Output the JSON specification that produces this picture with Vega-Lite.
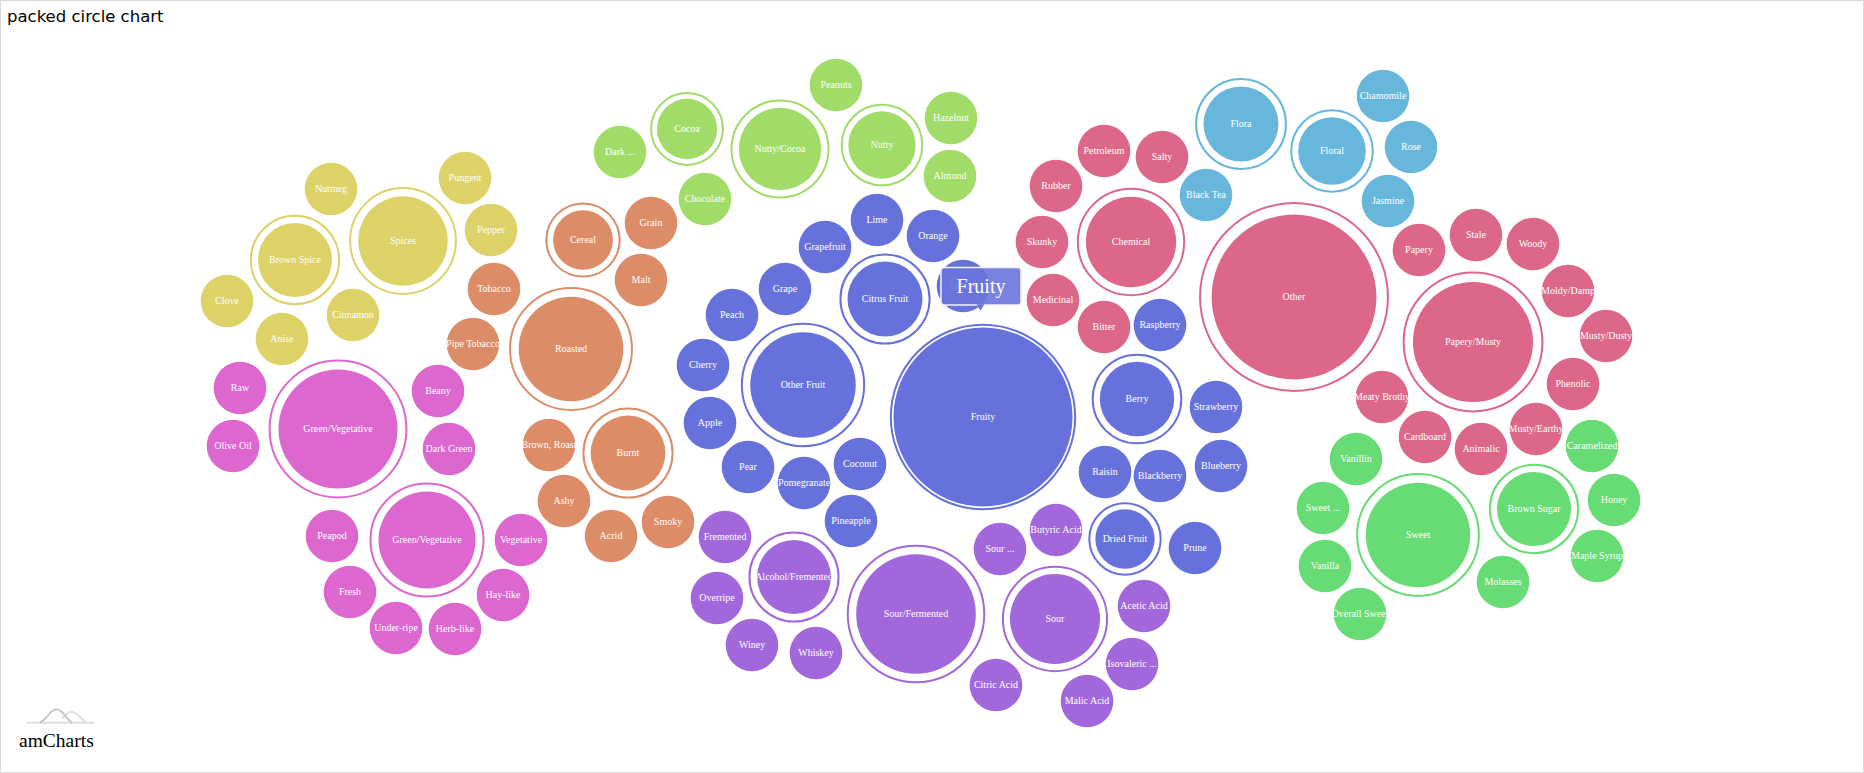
{
  "$schema": "https://vega.github.io/schema/vega-lite/v6.json",
  "width": 1864,
  "height": 773,
  "padding": 0,
  "autosize": {"type": "none"},
  "background": "white",
  "config": {"view": {"stroke": "#d9d9d9", "strokeWidth": 2}},
  "title": {"text": "packed circle chart", "anchor": "start", "frame": "group", "orient": "top", "offset": 0, "dx": 7, "dy": 38.5, "baseline": "alphabetic", "font": "DejaVu Sans", "fontSize": 16.5, "fontWeight": "normal", "color": "#000000"},
  "datasets": {
    "nodes": [
      {"name": "Spices", "group": "Spices", "x": 403, "y": 241, "r": 50.5, "outer": 59.7},
      {"name": "Brown Spice", "group": "Spices", "x": 295, "y": 260, "r": 41.7, "outer": 49.8},
      {"name": "Nutmeg", "group": "Spices", "x": 331, "y": 189, "r": 29.7},
      {"name": "Pungent", "group": "Spices", "x": 465, "y": 178, "r": 29.7},
      {"name": "Pepper", "group": "Spices", "x": 491, "y": 230, "r": 29.7},
      {"name": "Clove", "group": "Spices", "x": 227, "y": 301, "r": 29.7},
      {"name": "Cinnamon", "group": "Spices", "x": 353, "y": 315, "r": 29.7},
      {"name": "Anise", "group": "Spices", "x": 282, "y": 339, "r": 29.7},
      {"name": "Roasted", "group": "Roasted", "x": 571, "y": 349, "r": 59, "outer": 68.8},
      {"name": "Cereal", "group": "Roasted", "x": 583, "y": 240, "r": 33.7, "outer": 41.3},
      {"name": "Burnt", "group": "Roasted", "x": 628, "y": 453, "r": 42.2, "outer": 50.3},
      {"name": "Tobacco", "group": "Roasted", "x": 494, "y": 289, "r": 29.7},
      {"name": "Pipe Tobacco", "group": "Roasted", "x": 473, "y": 344, "r": 29.7},
      {"name": "Grain", "group": "Roasted", "x": 651, "y": 223, "r": 29.7},
      {"name": "Malt", "group": "Roasted", "x": 641, "y": 280, "r": 29.7},
      {"name": "Brown, Roast", "group": "Roasted", "x": 549, "y": 445, "r": 29.7},
      {"name": "Ashy", "group": "Roasted", "x": 564, "y": 501, "r": 29.7},
      {"name": "Acrid", "group": "Roasted", "x": 611, "y": 536, "r": 29.7},
      {"name": "Smoky", "group": "Roasted", "x": 668, "y": 522, "r": 29.7},
      {"name": "Nutty/Cocoa", "group": "Nutty/Cocoa", "x": 780, "y": 149, "r": 46.5, "outer": 54.7},
      {"name": "Cocoa", "group": "Nutty/Cocoa", "x": 687, "y": 129, "r": 34, "outer": 40.5},
      {"name": "Nutty", "group": "Nutty/Cocoa", "x": 882, "y": 145, "r": 38, "outer": 45.5},
      {"name": "Dark ...", "group": "Nutty/Cocoa", "x": 620, "y": 152, "r": 29.7},
      {"name": "Chocolate", "group": "Nutty/Cocoa", "x": 705, "y": 199, "r": 29.7},
      {"name": "Peanuts", "group": "Nutty/Cocoa", "x": 836, "y": 85, "r": 29.7},
      {"name": "Hazelnut", "group": "Nutty/Cocoa", "x": 951, "y": 118, "r": 29.7},
      {"name": "Almond", "group": "Nutty/Cocoa", "x": 950, "y": 176, "r": 29.7},
      {"name": "Fruity", "group": "Fruity", "x": 983, "y": 417, "r": 101, "outer": 104},
      {"name": "Citrus Fruit", "group": "Fruity", "x": 885, "y": 299, "r": 42.3, "outer": 50.3},
      {"name": "Other Fruit", "group": "Fruity", "x": 803, "y": 385, "r": 59.5, "outer": 69},
      {"name": "Berry", "group": "Fruity", "x": 1137, "y": 399, "r": 42, "outer": 50},
      {"name": "Dried Fruit", "group": "Fruity", "x": 1125, "y": 539, "r": 33.5, "outer": 40.3},
      {"name": "Lime", "group": "Fruity", "x": 877, "y": 220, "r": 29.7},
      {"name": "Orange", "group": "Fruity", "x": 933, "y": 236, "r": 29.7},
      {"name": "Grapefruit", "group": "Fruity", "x": 825, "y": 247, "r": 29.7},
      {"name": "Lemon", "group": "Fruity", "x": 963, "y": 286, "r": 29.7},
      {"name": "Grape", "group": "Fruity", "x": 785, "y": 289, "r": 29.7},
      {"name": "Peach", "group": "Fruity", "x": 732, "y": 315, "r": 29.7},
      {"name": "Cherry", "group": "Fruity", "x": 703, "y": 365, "r": 29.7},
      {"name": "Apple", "group": "Fruity", "x": 710, "y": 423, "r": 29.7},
      {"name": "Pear", "group": "Fruity", "x": 748, "y": 467, "r": 29.7},
      {"name": "Pomegranate", "group": "Fruity", "x": 804, "y": 483, "r": 29.7},
      {"name": "Coconut", "group": "Fruity", "x": 860, "y": 464, "r": 29.7},
      {"name": "Pineapple", "group": "Fruity", "x": 851, "y": 521, "r": 29.7},
      {"name": "Raspberry", "group": "Fruity", "x": 1160, "y": 325, "r": 29.7},
      {"name": "Strawberry", "group": "Fruity", "x": 1216, "y": 407, "r": 29.7},
      {"name": "Blueberry", "group": "Fruity", "x": 1221, "y": 466, "r": 29.7},
      {"name": "Blackberry", "group": "Fruity", "x": 1160, "y": 476, "r": 29.7},
      {"name": "Raisin", "group": "Fruity", "x": 1105, "y": 472, "r": 29.7},
      {"name": "Prune", "group": "Fruity", "x": 1195, "y": 548, "r": 29.7},
      {"name": "Other", "group": "Other", "x": 1294, "y": 297, "r": 93, "outer": 106},
      {"name": "Chemical", "group": "Other", "x": 1131, "y": 242, "r": 51, "outer": 60},
      {"name": "Papery/Musty", "group": "Other", "x": 1473, "y": 342, "r": 67.8, "outer": 78.3},
      {"name": "Rubber", "group": "Other", "x": 1056, "y": 186, "r": 29.7},
      {"name": "Petroleum", "group": "Other", "x": 1104, "y": 151, "r": 29.7},
      {"name": "Salty", "group": "Other", "x": 1162, "y": 157, "r": 29.7},
      {"name": "Skunky", "group": "Other", "x": 1042, "y": 242, "r": 29.7},
      {"name": "Medicinal", "group": "Other", "x": 1053, "y": 300, "r": 29.7},
      {"name": "Bitter", "group": "Other", "x": 1104, "y": 327, "r": 29.7},
      {"name": "Papery", "group": "Other", "x": 1419, "y": 250, "r": 29.7},
      {"name": "Stale", "group": "Other", "x": 1476, "y": 235, "r": 29.7},
      {"name": "Woody", "group": "Other", "x": 1533, "y": 244, "r": 29.7},
      {"name": "Moldy/Damp", "group": "Other", "x": 1568, "y": 291, "r": 29.7},
      {"name": "Musty/Dusty", "group": "Other", "x": 1606, "y": 336, "r": 29.7},
      {"name": "Phenolic", "group": "Other", "x": 1573, "y": 384, "r": 29.7},
      {"name": "Meaty Brothy", "group": "Other", "x": 1382, "y": 397, "r": 29.7},
      {"name": "Cardboard", "group": "Other", "x": 1425, "y": 437, "r": 29.7},
      {"name": "Animalic", "group": "Other", "x": 1481, "y": 449, "r": 29.7},
      {"name": "Musty/Earthy", "group": "Other", "x": 1536, "y": 429, "r": 29.7},
      {"name": "Flora", "group": "Floral", "x": 1241, "y": 124, "r": 42.3, "outer": 50.7},
      {"name": "Floral", "group": "Floral", "x": 1332, "y": 151, "r": 38.2, "outer": 46},
      {"name": "Chamomile", "group": "Floral", "x": 1383, "y": 96, "r": 29.7},
      {"name": "Rose", "group": "Floral", "x": 1411, "y": 147, "r": 29.7},
      {"name": "Jasmine", "group": "Floral", "x": 1388, "y": 201, "r": 29.7},
      {"name": "Black Tea", "group": "Floral", "x": 1206, "y": 195, "r": 29.7},
      {"name": "Sweet", "group": "Sweet", "x": 1418, "y": 535, "r": 59, "outer": 68.7},
      {"name": "Brown Sugar", "group": "Sweet", "x": 1534, "y": 509, "r": 41.8, "outer": 49.8},
      {"name": "Vanillin", "group": "Sweet", "x": 1356, "y": 459, "r": 29.7},
      {"name": "Sweet ...", "group": "Sweet", "x": 1323, "y": 508, "r": 29.7},
      {"name": "Vanilla", "group": "Sweet", "x": 1325, "y": 566, "r": 29.7},
      {"name": "Overall Sweet", "group": "Sweet", "x": 1360, "y": 614, "r": 29.7},
      {"name": "Molasses", "group": "Sweet", "x": 1503, "y": 582, "r": 29.7},
      {"name": "Honey", "group": "Sweet", "x": 1614, "y": 500, "r": 29.7},
      {"name": "Maple Syrup", "group": "Sweet", "x": 1597, "y": 556, "r": 29.7},
      {"name": "Caramelized", "group": "Sweet", "x": 1592, "y": 446, "r": 29.7},
      {"name": "Sour/Fermented", "group": "Sour/Fermented", "x": 916, "y": 614, "r": 67.5, "outer": 77},
      {"name": "Alcohol/Fremented", "group": "Sour/Fermented", "x": 794, "y": 577, "r": 41.7, "outer": 50.3},
      {"name": "Sour", "group": "Sour/Fermented", "x": 1055, "y": 619, "r": 50.8, "outer": 58.8},
      {"name": "Fremented", "group": "Sour/Fermented", "x": 725, "y": 537, "r": 29.7},
      {"name": "Overripe", "group": "Sour/Fermented", "x": 717, "y": 598, "r": 29.7},
      {"name": "Winey", "group": "Sour/Fermented", "x": 752, "y": 645, "r": 29.7},
      {"name": "Whiskey", "group": "Sour/Fermented", "x": 816, "y": 653, "r": 29.7},
      {"name": "Sour ...", "group": "Sour/Fermented", "x": 1000, "y": 549, "r": 29.7},
      {"name": "Butyric Acid", "group": "Sour/Fermented", "x": 1056, "y": 530, "r": 29.7},
      {"name": "Acetic Acid", "group": "Sour/Fermented", "x": 1144, "y": 606, "r": 29.7},
      {"name": "Isovaleric ...", "group": "Sour/Fermented", "x": 1132, "y": 664, "r": 29.7},
      {"name": "Malic Acid", "group": "Sour/Fermented", "x": 1087, "y": 701, "r": 29.7},
      {"name": "Citric Acid", "group": "Sour/Fermented", "x": 996, "y": 685, "r": 29.7},
      {"name": "Green/Vegetative", "group": "Green/Vegetative", "x": 338, "y": 429, "r": 67.2, "outer": 77.2},
      {"name": "Green/Vegetative", "group": "Green/Vegetative", "x": 427, "y": 540, "r": 54.8, "outer": 63.8},
      {"name": "Raw", "group": "Green/Vegetative", "x": 240, "y": 388, "r": 29.7},
      {"name": "Olive Oil", "group": "Green/Vegetative", "x": 233, "y": 446, "r": 29.7},
      {"name": "Beany", "group": "Green/Vegetative", "x": 438, "y": 391, "r": 29.7},
      {"name": "Dark Green", "group": "Green/Vegetative", "x": 449, "y": 449, "r": 29.7},
      {"name": "Peapod", "group": "Green/Vegetative", "x": 332, "y": 536, "r": 29.7},
      {"name": "Vegetative", "group": "Green/Vegetative", "x": 521, "y": 540, "r": 29.7},
      {"name": "Fresh", "group": "Green/Vegetative", "x": 350, "y": 592, "r": 29.7},
      {"name": "Hay-like", "group": "Green/Vegetative", "x": 503, "y": 595, "r": 29.7},
      {"name": "Under-ripe", "group": "Green/Vegetative", "x": 396, "y": 628, "r": 29.7},
      {"name": "Herb-like", "group": "Green/Vegetative", "x": 455, "y": 629, "r": 29.7}
    ],
    "tip": [
      {"label": "Fruity", "x": 941, "x2": 1021, "y": 267.5, "y2": 305, "px": 980.5, "py": 307.5, "tx": 981, "ty": 286.5}
    ],
    "logo": [
      {"part": "base", "x": 26.7, "y": 722.7},
      {"part": "base", "x": 94, "y": 722.7},
      {"part": "back", "x": 62, "y": 718.5},
      {"part": "back", "x": 66, "y": 714.5},
      {"part": "back", "x": 71, "y": 711.7},
      {"part": "back", "x": 76, "y": 713.5},
      {"part": "back", "x": 81, "y": 718},
      {"part": "back", "x": 86, "y": 722.7},
      {"part": "front", "x": 40, "y": 722.7},
      {"part": "front", "x": 46, "y": 718},
      {"part": "front", "x": 51, "y": 712},
      {"part": "front", "x": 56.7, "y": 709.3},
      {"part": "front", "x": 62, "y": 712},
      {"part": "front", "x": 67, "y": 718},
      {"part": "front", "x": 72, "y": 722.7}
    ],
    "brand": [
      {"label": "amCharts", "x": 19, "y": 747}
    ]
  },
  "layer": [
    {
      "data": {"name": "nodes"},
      "transform": [{"filter": "isValid(datum.outer)"}],
      "mark": {"type": "point", "shape": "circle", "filled": false, "strokeWidth": 2, "opacity": 1},
      "encoding": {
        "x": {"field": "x", "type": "quantitative", "scale": {"domain": [0, 1864], "nice": false, "zero": false}, "axis": null},
        "y": {"field": "y", "type": "quantitative", "scale": {"domain": [0, 773], "nice": false, "zero": false, "reverse": true}, "axis": null},
        "size": {"field": "outer", "type": "quantitative", "scale": {"type": "pow", "exponent": 2, "domain": [0, 110], "range": [0, 38013.27]}, "legend": null},
        "stroke": {"field": "group", "type": "nominal", "scale": {"domain": ["Spices", "Roasted", "Nutty/Cocoa", "Fruity", "Other", "Floral", "Sweet", "Sour/Fermented", "Green/Vegetative"], "range": ["#dcd267", "#dc8c67", "#a0dc67", "#6771dc", "#dc6788", "#67b7dc", "#67dc75", "#a367dc", "#dc67ce"]}, "legend": null}
      }
    },
    {
      "data": {"name": "nodes"},
      "mark": {"type": "circle", "opacity": 1},
      "encoding": {
        "x": {"field": "x", "type": "quantitative", "axis": null},
        "y": {"field": "y", "type": "quantitative", "axis": null},
        "size": {"field": "r", "type": "quantitative", "legend": null},
        "color": {"field": "group", "type": "nominal", "scale": {"domain": ["Spices", "Roasted", "Nutty/Cocoa", "Fruity", "Other", "Floral", "Sweet", "Sour/Fermented", "Green/Vegetative"], "range": ["#dcd267", "#dc8c67", "#a0dc67", "#6771dc", "#dc6788", "#67b7dc", "#67dc75", "#a367dc", "#dc67ce"]}, "legend": null}
      }
    },
    {
      "data": {"name": "nodes"},
      "mark": {"type": "text", "font": "Liberation Serif", "fontSize": 10, "fill": "#ffffff", "align": "center", "baseline": "middle"},
      "encoding": {
        "x": {"field": "x", "type": "quantitative", "axis": null},
        "y": {"field": "y", "type": "quantitative", "axis": null},
        "text": {"field": "name", "type": "nominal"}
      }
    },
    {
      "data": {"name": "tip"},
      "mark": {"type": "rect", "fill": "#6b74dc", "fillOpacity": 0.9, "stroke": "#f2f2f2", "strokeWidth": 1.5, "cornerRadius": 3},
      "encoding": {
        "x": {"field": "x", "type": "quantitative", "axis": null},
        "x2": {"field": "x2"},
        "y": {"field": "y", "type": "quantitative", "axis": null},
        "y2": {"field": "y2"}
      }
    },
    {
      "data": {"name": "tip"},
      "mark": {"type": "point", "shape": "triangle-down", "filled": true, "fill": "#6b74dc", "opacity": 1, "size": 60},
      "encoding": {
        "x": {"field": "px", "type": "quantitative", "axis": null},
        "y": {"field": "py", "type": "quantitative", "axis": null}
      }
    },
    {
      "data": {"name": "tip"},
      "mark": {"type": "text", "font": "Liberation Serif", "fontSize": 20, "fill": "#ffffff", "align": "center", "baseline": "middle"},
      "encoding": {
        "x": {"field": "tx", "type": "quantitative", "axis": null},
        "y": {"field": "ty", "type": "quantitative", "axis": null},
        "text": {"field": "label", "type": "nominal"}
      }
    },
    {
      "data": {"name": "logo"},
      "transform": [{"filter": "datum.part !== 'front'"}],
      "mark": {"type": "line", "interpolate": "monotone", "strokeWidth": 2, "stroke": "#dedede"},
      "encoding": {
        "x": {"field": "x", "type": "quantitative", "axis": null},
        "y": {"field": "y", "type": "quantitative", "axis": null},
        "detail": {"field": "part", "type": "nominal"},
        "order": {"field": "x", "type": "quantitative"}
      }
    },
    {
      "data": {"name": "logo"},
      "transform": [{"filter": "datum.part === 'front'"}],
      "mark": {"type": "line", "interpolate": "monotone", "strokeWidth": 2, "stroke": "#c8c8c8"},
      "encoding": {
        "x": {"field": "x", "type": "quantitative", "axis": null},
        "y": {"field": "y", "type": "quantitative", "axis": null},
        "order": {"field": "x", "type": "quantitative"}
      }
    },
    {
      "data": {"name": "brand"},
      "mark": {"type": "text", "font": "Liberation Serif", "fontSize": 19.5, "fill": "#000000", "align": "left", "baseline": "alphabetic"},
      "encoding": {
        "x": {"field": "x", "type": "quantitative", "axis": null},
        "y": {"field": "y", "type": "quantitative", "axis": null},
        "text": {"field": "label", "type": "nominal"}
      }
    }
  ]
}
